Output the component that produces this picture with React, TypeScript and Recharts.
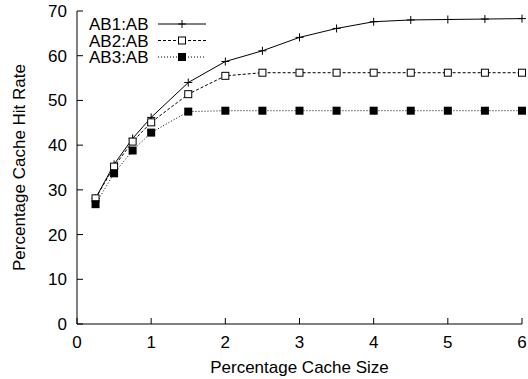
import { LineChart, Line, XAxis, YAxis, Legend } from 'recharts';

// cache size (% of working set) and hit rate per configuration
const cacheSize = [0.25, 0.5, 0.75, 1, 1.5, 2, 2.5, 3, 3.5, 4, 4.5, 5, 5.5, 6];
const ab1 = [28.1, 35.7, 41.5, 46.2, 54.0, 58.7, 61.1, 64.1, 66.1, 67.6, 68.0, 68.1, 68.2, 68.3];
const ab2 = [28.1, 35.2, 40.8, 45.1, 51.4, 55.5, 56.2, 56.2, 56.2, 56.2, 56.2, 56.2, 56.2, 56.2];
const ab3 = [26.8, 33.7, 38.8, 42.8, 47.5, 47.7, 47.7, 47.7, 47.7, 47.7, 47.7, 47.7, 47.7, 47.7];
const seriesNames = ['AB1:AB', 'AB2:AB', 'AB3:AB'];

const xTicks = [0, 1, 2, 3, 4, 5, 6];
const yTicks = [0, 10, 20, 30, 40, 50, 60, 70];

const data = cacheSize.map((x, i) => ({ x, ab1: ab1[i], ab2: ab2[i], ab3: ab3[i] }));

const FONT = '"Liberation Sans", Arial, Helvetica, sans-serif';
const INK = '#000';

// gnuplot-style point markers
function Plus({ cx, cy }: { cx: number; cy: number }) {
  return <path d={`M${cx - 4},${cy}H${cx + 4}M${cx},${cy - 4}V${cy + 4}`} stroke={INK} strokeWidth={1} fill="none" />;
}

function OpenSquare({ cx, cy }: { cx: number; cy: number }) {
  return <rect x={cx - 3.5} y={cy - 3.5} width={7} height={7} stroke={INK} strokeWidth={1} fill="#fff" />;
}

function FilledSquare({ cx, cy }: { cx: number; cy: number }) {
  return <rect x={cx - 4} y={cy - 4} width={8} height={8} fill={INK} />;
}

const styles = [
  { marker: Plus, dash: undefined },
  { marker: OpenSquare, dash: '3 2' },
  { marker: FilledSquare, dash: '1 2' },
];

// key box in the top-left corner of the plot
function KeyBox() {
  return (
    <svg width={230} height={75} style={{ display: 'block' }}>
      {seriesNames.map((name, i) => {
        const cy = 24 + i * 16.5;
        const M = styles[i].marker;
        return (
          <g key={name}>
            <text x={89} y={cy + 6} fontSize={17} fontFamily={FONT} fill={INK}>{name}</text>
            <line x1={158} x2={206} y1={cy} y2={cy} stroke={INK} strokeWidth={1} strokeDasharray={styles[i].dash} />
            <M cx={182} cy={cy} />
          </g>
        );
      })}
    </svg>
  );
}

function XTitle(props: any) {
  const vb = props.viewBox || {};
  return (
    <text x={vb.x + vb.width / 2} y={373} textAnchor="middle" fontSize={17} fontFamily={FONT} fill={INK}>
      Percentage Cache Size
    </text>
  );
}

function YTitle(props: any) {
  const vb = props.viewBox || {};
  const cy = vb.y + vb.height / 2;
  return (
    <text x={0} y={0} transform={`translate(19,${cy}) rotate(-90)`} textAnchor="middle" dominantBaseline="central"
      fontSize={17} fontFamily={FONT} fill={INK}>
      Percentage Cache Hit Rate
    </text>
  );
}

const tickStyle = { fill: INK, fontSize: 17, fontFamily: FONT };
const blank = () => '';

export default function App() {
  return (
    <div style={{ position: 'absolute', left: 0, top: 0, background: '#fff' }}>
      <LineChart width={528} height={379} data={data} margin={{ top: 11, right: 6, bottom: 0, left: 0 }}>
        <XAxis dataKey="x" type="number" domain={[0, 6]} ticks={xTicks} height={55}
          tickSize={-6} tickMargin={18} tick={tickStyle} stroke={INK} label={XTitle} />
        <XAxis xAxisId="top" dataKey="x" type="number" orientation="top" domain={[0, 6]} ticks={xTicks}
          height={0} tickSize={-6} tickFormatter={blank} stroke={INK} />
        <YAxis type="number" domain={[0, 70]} ticks={yTicks} width={77}
          tickSize={-6} tickMargin={16} tick={tickStyle} stroke={INK} label={YTitle} />
        <YAxis yAxisId="right" type="number" orientation="right" domain={[0, 70]} ticks={yTicks}
          width={0} tickSize={-6} tickFormatter={blank} stroke={INK} />
        <Legend verticalAlign="middle" align="center" content={KeyBox}
          wrapperStyle={{ top: 0, left: 0, width: 230, height: 75 }} />
        {['ab1', 'ab2', 'ab3'].map((key, i) => {
          const M = styles[i].marker;
          return (
            <Line key={key} dataKey={key} name={seriesNames[i]} type="linear" stroke={INK} strokeWidth={1}
              strokeDasharray={styles[i].dash} isAnimationActive={false}
              dot={(p: any) => <M key={`${key}-${p.index}`} cx={p.cx} cy={p.cy} />} />
          );
        })}
      </LineChart>
    </div>
  );
}
